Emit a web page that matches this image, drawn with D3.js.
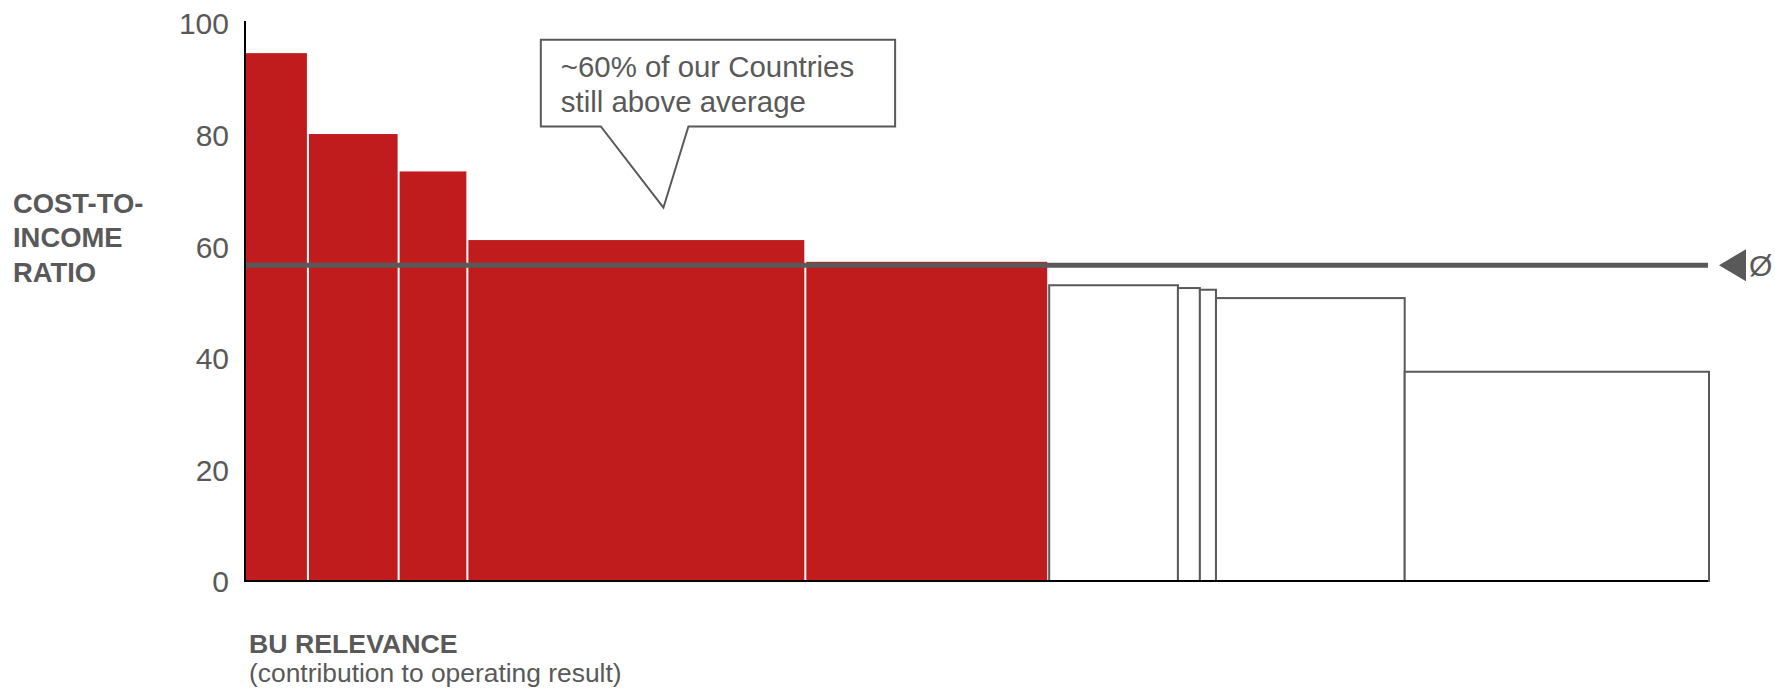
<!DOCTYPE html>
<html>
<head>
<meta charset="utf-8">
<script src="https://cdn.jsdelivr.net/npm/d3@7"></script>
<style>
  html, body { margin: 0; padding: 0; background: #fff; }
  svg { display: block; font-family: "Liberation Sans", Arial, Helvetica, sans-serif; }
</style>
</head>
<body>
<svg id="chart" width="1775" height="693"></svg>
<script>
// ---- data ----
const businessUnits = ["BU 1", "BU 2", "BU 3", "BU 4", "BU 5", "BU 6", "BU 7", "BU 8", "BU 9", "BU 10"];
const relevance = [4.3, 6.2, 4.7, 23.1, 16.6, 8.8, 1.5, 1.1, 12.9, 20.8];   // contribution to operating result (%)
const costIncome = [94.6, 80.1, 73.4, 61.1, 57.2, 53.0, 52.5, 52.2, 50.7, 37.5];
const averageCIR = 56.6;
const yTicks = [0, 20, 40, 60, 80, 100];
const yTitle = ["COST-TO-", "INCOME", "RATIO"];
const xTitle = "BU RELEVANCE";
const xSubtitle = "(contribution to operating result)";
const calloutLines = ["~60% of our Countries", "still above average"];
const calloutAnchor = { x: 28.6, y: 66.9 };
const avgSymbol = "Ø";

// ---- layout ----
const RED = "#C01C1E";
const GREY = "#595959";
const svg = d3.select("#chart");

const total = d3.sum(relevance);
const x = d3.scaleLinear().domain([0, total]).range([245, 1708]);
const y = d3.scaleLinear().domain([0, 100]).range([581, 23]);

let cum = 0;
const bars = businessUnits.map((name, i) => {
  const b = { name, x0: cum, x1: cum + relevance[i], v: costIncome[i], above: costIncome[i] > averageCIR };
  cum += relevance[i];
  return b;
});

// bars
const g = svg.append("g");
g.selectAll("rect.red").data(bars.filter(d => d.above)).join("rect")
  .attr("class", "red")
  .attr("x", d => x(d.x0) + 1)
  .attr("width", d => x(d.x1) - x(d.x0) - 2)
  .attr("y", d => y(d.v))
  .attr("height", d => y(0) - y(d.v))
  .attr("fill", RED);

g.selectAll("rect.white").data(bars.filter(d => !d.above)).join("rect")
  .attr("class", "white")
  .attr("x", d => x(d.x0) + 1)
  .attr("width", d => x(d.x1) - x(d.x0))
  .attr("y", d => y(d.v))
  .attr("height", d => y(0) - y(d.v))
  .attr("fill", "#fff")
  .attr("stroke", GREY)
  .attr("stroke-width", 2);

// average line
svg.append("line")
  .attr("x1", x(0)).attr("x2", x(total))
  .attr("y1", y(averageCIR)).attr("y2", y(averageCIR))
  .attr("stroke", GREY).attr("stroke-width", 5);

const ay = y(averageCIR);
const tx = x(total) + 11;
svg.append("path")
  .attr("d", `M${tx},${ay} L${tx + 27},${ay - 16} L${tx + 27},${ay + 16} Z`)
  .attr("fill", GREY);
svg.append("text")
  .attr("x", tx + 30).attr("y", ay).attr("dy", "0.36em")
  .attr("font-size", 30).attr("fill", GREY)
  .text(avgSymbol);

// axes
const yAxis = d3.axisLeft(y).tickValues(yTicks).tickSize(0).tickPadding(16);
const ya = svg.append("g").attr("transform", `translate(${x(0)},0)`).call(yAxis);
ya.select(".domain").remove();
ya.selectAll("text")
  .attr("font-size", 30).attr("fill", GREY)
  .attr("font-family", "Liberation Sans, Arial, sans-serif")
  .attr("dy", "0.36em");

svg.append("line")
  .attr("x1", x(0)).attr("x2", x(0))
  .attr("y1", y(100) - 2).attr("y2", y(0) + 1)
  .attr("stroke", "#000").attr("stroke-width", 2);
svg.append("line")
  .attr("x1", x(0) - 1).attr("x2", x(total))
  .attr("y1", y(0)).attr("y2", y(0))
  .attr("stroke", "#000").attr("stroke-width", 2);

// y title
svg.append("text")
  .attr("x", 13).attr("y", 213)
  .attr("font-size", 27.4).attr("font-weight", "bold").attr("fill", GREY)
  .selectAll("tspan").data(yTitle).join("tspan")
  .attr("x", 13).attr("dy", (d, i) => i === 0 ? 0 : 34.3)
  .text(d => d);

// x title
svg.append("text")
  .attr("x", 249).attr("y", 653)
  .attr("font-size", 26.7).attr("font-weight", "bold").attr("fill", GREY)
  .text(xTitle);
svg.append("text")
  .attr("x", 249).attr("y", 682)
  .attr("font-size", 26.4).attr("fill", GREY)
  .text(xSubtitle);

// callout
const tipX = x(calloutAnchor.x), tipY = y(calloutAnchor.y);
const bl = tipX - 122.6, br = tipX + 231.7, bt = tipY - 168, bb = tipY - 81.3;
const pl = tipX - 62.6, pr = tipX + 25;
svg.append("path")
  .attr("d", `M${bl},${bb} L${bl},${bt} L${br},${bt} L${br},${bb} L${pr},${bb} L${tipX},${tipY} L${pl},${bb} Z`)
  .attr("fill", "#fff").attr("stroke", GREY).attr("stroke-width", 2)
  .attr("stroke-linejoin", "miter");
svg.append("text")
  .attr("font-size", 29.4).attr("fill", GREY)
  .selectAll("tspan").data(calloutLines).join("tspan")
  .attr("x", bl + 20)
  .attr("y", (d, i) => bt + 37 + i * 35)
  .text(d => d);
</script>
</body>
</html>
